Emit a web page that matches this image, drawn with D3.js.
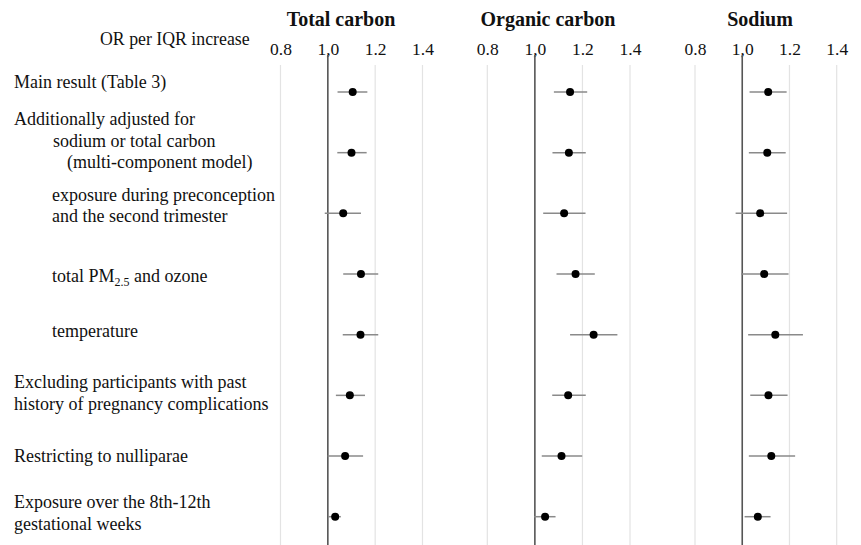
<!DOCTYPE html>
<html><head><meta charset="utf-8">
<script src="https://cdn.jsdelivr.net/npm/d3@7"></script>
<style>body{margin:0;background:#fff}svg{display:block}</style>
</head><body><svg id="c" width="861" height="545"></svg>
<script>
const rows = ["r1","r2","r3","r4","r5","r6","r7","r8"];
const panels = ["Total carbon","Organic carbon","Sodium"];
const tickValues = [0.8, 1.0, 1.2, 1.4];
const tickLabels = ["0.8","1,0","1.2","1.4"];
// OR, lower CI, upper CI per panel
const tcOR = [1.105,1.100,1.065,1.140,1.138,1.093,1.073,1.031];
const tcLo = [1.041,1.040,0.987,1.065,1.063,1.034,0.999,1.001];
const tcHi = [1.167,1.164,1.140,1.213,1.213,1.157,1.149,1.055];
const ocOR = [1.148,1.143,1.123,1.171,1.247,1.140,1.112,1.043];
const ocLo = [1.080,1.074,1.035,1.091,1.148,1.073,1.029,0.997];
const ocHi = [1.220,1.214,1.213,1.252,1.347,1.214,1.199,1.087];
const naOR = [1.110,1.106,1.076,1.093,1.140,1.111,1.123,1.066];
const naLo = [1.031,1.028,0.972,0.996,1.025,1.034,1.028,1.010];
const naHi = [1.188,1.184,1.190,1.196,1.257,1.192,1.224,1.120];

const FONT = "'Liberation Serif', 'Times New Roman', Times, serif";
const svg = d3.select("#c");
const panelData = [[tcOR,tcLo,tcHi],[ocOR,ocLo,ocHi],[naOR,naLo,naHi]];
const ranges = [[280.5,422.5],[487.3,630],[695,836.7]];
const titleCenters = [341, 548, 760];
const y = d3.scalePoint().domain(rows).range([92,516.7]);

// Left labels
const labelLines = [
  {t:"Main result (Table 3)", x:14, y:88},
  {t:"Additionally adjusted for", x:14, y:125},
  {t:"sodium or total carbon", x:53, y:147},
  {t:"(multi-component model)", x:67, y:168},
  {t:"exposure during preconception", x:52, y:201},
  {t:"and the second trimester", x:52, y:222},
  {t:"temperature", x:52, y:337},
  {t:"Excluding participants with past", x:14, y:388},
  {t:"history of pregnancy complications", x:14, y:410},
  {t:"Restricting to nulliparae", x:14, y:462},
  {t:"Exposure over the 8th-12th", x:14, y:508},
  {t:"gestational weeks", x:14, y:530}
];
svg.append("g").selectAll("text").data(labelLines).join("text")
  .attr("x",d=>d.x).attr("y",d=>d.y).attr("font-family",FONT).attr("font-size",18).attr("fill","#111").text(d=>d.t);
const pm = svg.append("text").attr("x",52).attr("y",282).attr("font-family",FONT).attr("font-size",18).attr("fill","#111");
pm.append("tspan").text("total PM");
pm.append("tspan").attr("font-size",12).attr("dy",4).text("2.5");
pm.append("tspan").attr("dy",-4).text(" and ozone");

svg.append("text").attr("x",100).attr("y",45).attr("font-family",FONT).attr("font-size",17.8).attr("fill","#111").text("OR per IQR increase");

panels.forEach((name,i)=>{
  const x = d3.scaleLinear().domain([0.8,1.4]).range(ranges[i]);
  const g = svg.append("g");
  g.append("text").attr("x",titleCenters[i]).attr("y",26).attr("text-anchor","middle")
    .attr("font-family",FONT).attr("font-size",20).attr("font-weight","bold").attr("fill","#111").text(name);
  const axis = d3.axisTop(x).tickValues(tickValues).tickFormat((d,j)=>tickLabels[j]).tickSize(0).tickPadding(0);
  const ag = g.append("g").attr("transform","translate(0,55)").call(axis);
  ag.attr("font-family",FONT);
  ag.select(".domain").remove();
  ag.selectAll("text").attr("font-size",17.5).attr("fill","#111").attr("font-family",FONT).attr("dy",0);
  g.selectAll("line.grid").data(tickValues.filter(v=>v!==1.0)).join("line")
    .attr("x1",d=>x(d)).attr("x2",d=>x(d)).attr("y1",65).attr("y2",545)
    .attr("stroke","#e3e3e3").attr("stroke-width",1.2);
  g.append("line").attr("x1",x(1.0)).attr("x2",x(1.0)).attr("y1",55).attr("y2",545)
    .attr("stroke","#555").attr("stroke-width",1.6);
  const [or,lo,hi] = panelData[i];
  g.selectAll("line.ci").data(rows).join("line")
    .attr("x1",(d,j)=>x(lo[j])).attr("x2",(d,j)=>x(hi[j]))
    .attr("y1",d=>y(d)).attr("y2",d=>y(d))
    .attr("stroke","#8a8a8a").attr("stroke-width",1.5);
  g.selectAll("circle").data(rows).join("circle")
    .attr("cx",(d,j)=>x(or[j])).attr("cy",d=>y(d)).attr("r",4).attr("fill","#000");
});
</script></body></html>
